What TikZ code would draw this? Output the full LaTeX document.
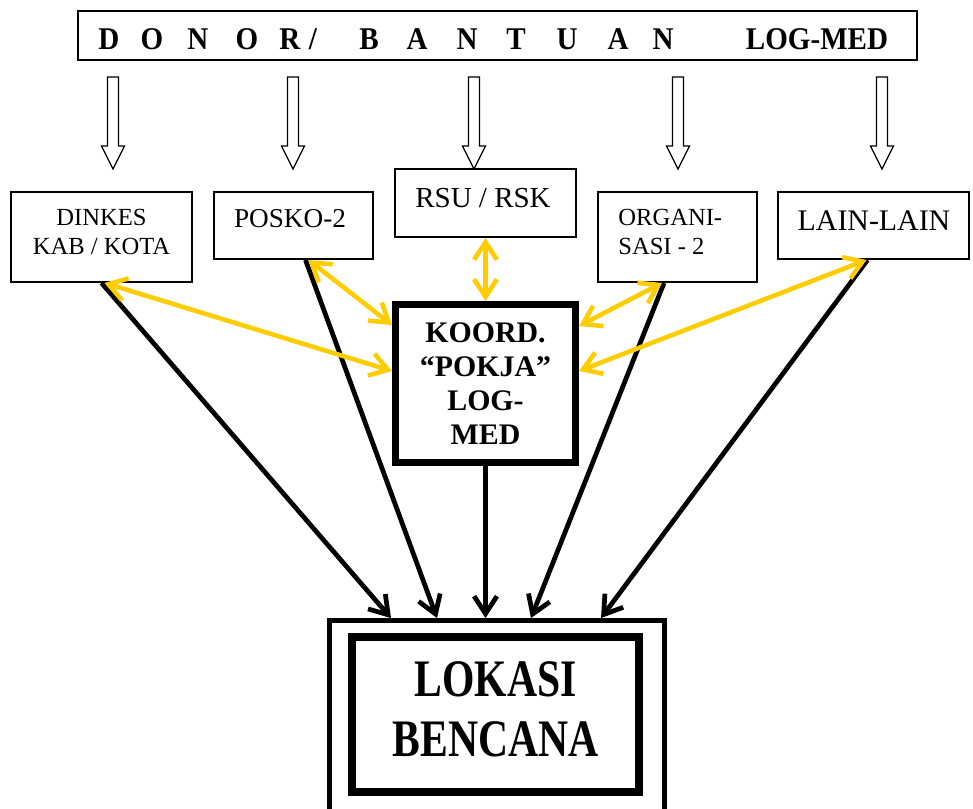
\documentclass[tikz,border=0pt]{standalone}
\usepackage{fontspec}
\setmainfont{Liberation Serif}
\usetikzlibrary{arrows.meta,calc}
\definecolor{kuning}{RGB}{255,204,0}

\begin{document}
\begin{tikzpicture}[x=0.02cm,y=-0.02cm,
    kotak/.style={draw,line width=1.1pt,inner sep=0pt},
    tulis/.style={inner sep=0pt,anchor=base},
    panah/.style={-{Straight Barb[length=10pt,width=13pt]},line width=2.7pt},
    koordinasi/.style={{Straight Barb[length=10pt,width=13pt]}-{Straight Barb[length=10pt,width=13pt]},line width=2.6pt,draw=kuning}]
    \useasboundingbox (0,0) rectangle (973,808);
    % kotak donor di atas
    \node[kotak,minimum width=16.78cm,minimum height=0.98cm] (donor) at (497.5,35.5) {};
    \foreach \h/\px [count=\i] in {D/109,O/152,N/198,O/247,R/290,\slash/313,B/369,A/417,N/467,T/516,U/567,A/618,N/663,LOG-MED/817}
        \node[tulis,font=\fontsize{18}{20}\selectfont\bfseries] (huruf\i) at (\px,50) {\scalebox{0.92}[1]{\h}};
    % panah kosong dari donor
    \foreach \px in {113,293,474,678,882}
        \draw[line width=0.7pt] (\px-5.5,77) -- (\px+5.5,77) -- (\px+5.5,146) -- (\px+11.5,146) -- (\px,169) -- (\px-11.5,146) -- (\px-5.5,146) -- cycle;
    % kotak penerima
    \node[kotak,minimum width=3.62cm,minimum height=1.8cm] (dinkes) at (101.5,237) {};
    \node[kotak,minimum width=3.18cm,minimum height=1.34cm] (posko) at (293.5,225.5) {};
    \node[kotak,minimum width=3.62cm,minimum height=1.36cm] (rsu) at (485.5,203) {};
    \node[kotak,minimum width=3.18cm,minimum height=1.8cm] (organi) at (677.5,237) {};
    \node[kotak,minimum width=3.82cm,minimum height=1.34cm] (lain) at (873.5,225.5) {};
    \node[tulis,font=\fontsize{14}{16}\selectfont] (tdinkes) at (101.5,225) {DINKES};
    \node[tulis,font=\fontsize{14}{16}\selectfont] (tkab) at (101.5,254) {KAB / KOTA};
    \node[tulis,font=\fontsize{15.5}{18}\selectfont] (tposko) at (290,227) {POSKO-2};
    \node[tulis,font=\fontsize{16.5}{19}\selectfont] (trsu) at (483,207) {RSU / RSK};
    \node[tulis,anchor=base west,font=\fontsize{14}{16}\selectfont] (torgani) at (618,225) {ORGANI-};
    \node[tulis,anchor=base west,font=\fontsize{14}{16}\selectfont] (tsasi) at (618,254) {SASI - 2};
    \node[tulis,font=\fontsize{17}{20}\selectfont] (tlain) at (874,230) {LAIN-LAIN};
    % pokja
    \node[draw,line width=4pt,minimum width=3.6cm,minimum height=3.16cm,inner sep=0pt,align=center,font=\fontsize{17}{19.3}\selectfont\bfseries] (koord) at (485.5,383.5) {KOORD.\\“POKJA”\\LOG-\\MED};
    % lokasi
    \node[draw,line width=2.8pt,minimum width=6.7cm,minimum height=3.92cm] (luar) at (497,718.5) {};
    \node[draw,line width=4.25pt,minimum width=5.74cm,minimum height=3.1cm,inner sep=0pt,font=\fontsize{30}{34}\selectfont\bfseries] (dalam) at (495.5,714.5) {\scalebox{0.79}[1]{\begin{tabular}{@{}c@{}}LOKASI\\BENCANA\end{tabular}}};
    % distribusi
    \draw[panah] (dinkes.south) -- ($(luar.north)+(-106,0)$);
    \draw[panah] ($(posko.south)+(12,0)$) -- ($(luar.north)+(-60,0)$);
    \draw[panah] (koord.south) -- (koord.south |- luar.north);
    \draw[panah] ($(organi.south)+(-13.5,0)$) -- ($(luar.north)+(34,0)$);
    \draw[panah] ($(lain.south)+(-6,0)$) -- ($(luar.north)+(104,0)$);
    % koordinasi
    \draw[koordinasi] ($(dinkes.south)+(3,0)$) -- ($(koord.west)+(0,-12.5)$);
    \draw[koordinasi] ($(posko.south)+(15,0)$) -- ($(koord.west)+(0,-58.5)$);
    \draw[koordinasi] (rsu.south) -- (koord.north);
    \draw[koordinasi] ($(organi.south)+(-15.5,0)$) -- ($(koord.east)+(0,-57.5)$);
    \draw[koordinasi] ($(lain.south)+(-7,0)$) -- ($(koord.east)+(0,-12.5)$);
\end{tikzpicture}
\end{document}
